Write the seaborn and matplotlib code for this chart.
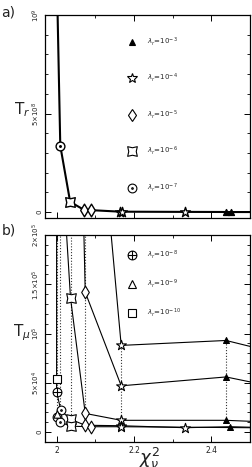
import matplotlib
matplotlib.use('Agg')
import matplotlib.pyplot as plt
import numpy as np
import pandas as pd
import seaborn as sns
from matplotlib.path import Path
from matplotlib.lines import Line2D

# ---------------- data ----------------
legend_top_exp = ['-3', '-4', '-5', '-6', '-7']
legend_top_mk = ['tri', 'star', 'diam', 'sq6', 'odot']
legend_bot_exp = ['-8', '-9', '-10']
legend_bot_mk = ['oplus', 'otri', 'sq']

# panel a) T_r vs chi^2
top_x = [2.000, 2.0095, 2.035, 2.072, 2.088, 2.165, 2.169, 2.332, 2.438, 2.450, 2.500]
top_y = [1.25e9, 3.37e8, 5.2e7, 1.0e7, 1.0e7, 2.0e6, 2.0e6, 1.0e6, 5.0e5, 3.0e5, 2.0e5]
top_m = ['oplus', 'odot', 'sq6', 'diam', 'diam', 'star', 'star', 'star', 'tri', 'tri', '']

# panel b) T_mu vs chi^2 (several curves)
c1_x = [2.036, 2.074, 2.167, 2.438, 2.500]
c1_y = [5.0e6, 4.9e5, 8.8e4, 9.3e4, 8.7e4]
c1_m = ['sq6', 'diam', 'star', 'tri', '']

c2_x = [2.010, 2.036, 2.074, 2.167, 2.438, 2.500]
c2_y = [5.0e6, 8.0e5, 1.42e5, 4.7e4, 5.6e4, 5.1e4]
c2_m = ['odot', 'sq6', 'diam', 'star', 'tri', '']

c3_x = [2.000, 2.010, 2.036, 2.074, 2.167, 2.438, 2.500]
c3_y = [5.0e6, 3.0e5, 1.36e5, 1.9e4, 1.2e4, 1.2e4, 1.1e4]
c3_m = ['oplus', 'odot', 'sq6', 'diam', 'star', 'tri', '']

c4_x = [2.000, 2.000, 2.000, 2.011, 2.036, 2.074, 2.167, 2.332, 2.449, 2.500]
c4_y = [2.0e6, 5.4e4, 4.1e4, 2.2e4, 1.3e4, 7.0e3, 6.5e3, 4.5e3, 5.5e3, 5.0e3]
c4_m = ['', 'sq', 'oplus', 'odot', 'sq6', 'diam', 'star', 'star', 'tri', '']

c5_x = [2.000, 2.000, 2.008, 2.036, 2.089, 2.167, 2.500]
c5_y = [1.8e4, 1.55e4, 1.05e4, 6.0e3, 5.5e3, 5.5e3, 4.5e3]
c5_m = ['otri', 'odot', 'odot', 'sq6', 'diam', 'star', '']

dotted_x = [2.000, 2.010, 2.036, 2.074, 2.167, 2.438]

# ---------------- markers ----------------
def pinched_square():
    v = [(-1, -1), (0, -0.78), (1, -1), (0.78, 0), (1, 1), (0, 0.78), (-1, 1), (-0.78, 0), (-1, -1)]
    return Path(v, [Path.MOVETO] + [Path.LINETO] * 7 + [Path.CLOSEPOLY])

def circle_dot():
    c = Path.unit_circle()
    d = Path(Path.unit_circle().vertices * 0.18, Path.unit_circle().codes)
    return Path.make_compound_path(c, d)

def circle_plus():
    c = Path.unit_circle()
    cr = Path([(-1, 0), (1, 0), (0, -1), (0, 1)], [Path.MOVETO, Path.LINETO, Path.MOVETO, Path.LINETO])
    return Path.make_compound_path(c, cr)

MK = {
    'tri':   dict(marker='^', fc='k', s=18),
    'star':  dict(marker='*', fc='white', s=55),
    'diam':  dict(marker='d', fc='white', s=42),
    'sq6':   dict(marker=pinched_square(), fc='white', s=48),
    'odot':  dict(marker=circle_dot(), fc='white', s=40),
    'oplus': dict(marker=circle_plus(), fc='white', s=40),
    'otri':  dict(marker='^', fc='white', s=28),
    'sq':    dict(marker='s', fc='white', s=26),
}

def draw_markers(ax, xs, ys, ms, lw=0.8):
    df = pd.DataFrame({'x': xs, 'y': ys, 'm': ms})
    df = df[df.m != '']
    for key, g in df.groupby('m'):
        spec = MK[key]
        sns.scatterplot(data=g, x='x', y='y', ax=ax, marker=spec['marker'], s=spec['s'],
                        color=spec['fc'], edgecolor='k', linewidth=lw, zorder=3, legend=False)

def legend_handles(keys):
    hs = []
    for k in keys:
        spec = MK[k]
        hs.append(Line2D([], [], ls='none', marker=spec['marker'], markerfacecolor=spec['fc'],
                         markeredgecolor='k', markersize=np.sqrt(spec['s']), mew=0.8))
    return hs

# ---------------- figure ----------------
sns.set_style('ticks')
plt.rcParams.update({
    'font.family': ['DejaVu Sans'],
    'xtick.direction': 'in', 'ytick.direction': 'in',
    'xtick.top': True, 'ytick.right': True,
    'xtick.major.size': 4, 'ytick.major.size': 4,
    'xtick.minor.size': 2, 'ytick.minor.size': 2,
    'xtick.major.width': 0.7, 'ytick.major.width': 0.7,
    'xtick.minor.width': 0.6, 'ytick.minor.width': 0.6,
    'axes.linewidth': 0.9, 'axes.edgecolor': 'k',
    'xtick.color': 'k', 'ytick.color': 'k',
    'xtick.labelcolor': '#222222', 'ytick.labelcolor': '#222222',
    'mathtext.fontset': 'dejavusans',
})

fig = plt.figure(figsize=(2.53, 4.67), dpi=100)
axa = fig.add_axes([45 / 253, 1 - 218 / 467, 205 / 253, 203 / 467])
axb = fig.add_axes([45 / 253, 1 - 442 / 467, 205 / 253, 207 / 467])

XL = (1.97, 2.5)

# panel a
sns.lineplot(x=top_x, y=top_y, sort=False, estimator=None, color='k', lw=1.5, ax=axa)
draw_markers(axa, top_x, top_y, top_m, lw=1.0)
axa.set_xlim(*XL)
axa.set_ylim(-0.03e9, 1.0e9)
axa.set_yticks([0, 5e8, 1e9])
axa.set_yticklabels(['0', r'$5{\times}10^8$', r'$10^9$'], rotation=90, va='center', fontsize=5)
axa.set_yticks(np.arange(0, 1.0e9 + 1, 1e8), minor=True)
axa.set_xticks([2.0, 2.2, 2.4])
axa.set_xticks([2.1, 2.3], minor=True)
axa.set_xticklabels([])
axa.tick_params(axis='y', pad=2)
axa.set_xlabel('')
axa.set_ylabel('')
axa.legend(legend_handles(legend_top_mk),
           [r'$\lambda_r\!=\!10^{%s}$' % e for e in legend_top_exp],
           loc='upper left', bbox_to_anchor=(0.405, 0.90), frameon=False,
           fontsize=5, labelspacing=3.46, handletextpad=1.55, handlelength=1.2,
           borderpad=0, borderaxespad=0)

# panel b
curves = [(c1_x, c1_y, c1_m), (c2_x, c2_y, c2_m), (c3_x, c3_y, c3_m),
          (c4_x, c4_y, c4_m), (c5_x, c5_y, c5_m)]
rows = []
for i, (xs, ys, ms) in enumerate(curves):
    for x, y, m in zip(xs, ys, ms):
        rows.append(dict(curve=i, x=x, y=y, m=m))
dfb = pd.DataFrame(rows)

# dotted connectors between points of equal lambda
ylim_b = (-1.0e4, 2.0e5)
for xd in dotted_x:
    ys = dfb.loc[(dfb.x - xd).abs() < 0.003, 'y']
    axb.vlines(xd, ys.min(), min(ys.max(), ylim_b[1] * 1.05), colors='#333333',
               linestyles=(0, (1, 1.6)), lw=0.8, zorder=1)

sns.lineplot(data=dfb, x='x', y='y', units='curve', estimator=None, sort=False,
             color='k', lw=0.8, ax=axb)
for xs, ys, ms in curves:
    draw_markers(axb, xs, ys, ms, lw=0.8)

axb.set_xlim(*XL)
axb.set_ylim(*ylim_b)
axb.set_yticks([0, 5e4, 1e5, 1.5e5, 2e5])
axb.set_yticklabels(['0', r'$5{\times}10^4$', r'$10^5$', r'$1.5{\times}10^5$', r'$2{\times}10^5$'],
                    rotation=90, va='center', fontsize=5)
axb.set_yticks(np.arange(0, 2.0e5 + 1, 1e4), minor=True)
axb.set_xticks([2.0, 2.2, 2.4])
axb.set_xticklabels(['2', '2.2', '2.4'], fontsize=5.5)
axb.set_xticks([2.1, 2.3], minor=True)
axb.tick_params(axis='y', pad=2)
axb.tick_params(axis='x', pad=3)
axb.set_xlabel('')
axb.set_ylabel('')
axb.legend(legend_handles(legend_bot_mk),
           [r'$\lambda_r\!=\!10^{%s}$' % e for e in legend_bot_exp],
           loc='upper left', bbox_to_anchor=(0.405, 0.935), frameon=False,
           fontsize=5, labelspacing=2.38, handletextpad=1.55, handlelength=1.2,
           borderpad=0, borderaxespad=0)

# labels
fig.text(0.005, 1 - 12 / 467, 'a)', fontsize=10, va='center', ha='left', color='#222222')
fig.text(0.005, 1 - 231 / 467, 'b)', fontsize=10, va='center', ha='left', color='#222222')
fig.text(22 / 253, 1 - 110 / 467, r'T$_r$', fontsize=11, va='center', ha='center', color='#222222')
fig.text(22 / 253, 1 - 333 / 467, r'T$_\mu$', fontsize=11, va='center', ha='center', color='#222222')
fig.text(150 / 253, 1 - 446 / 467, r'$\chi^2_{\nu}$', fontsize=13, va='top', ha='center', color='#222222')

fig.savefig('out.png', dpi=100)
